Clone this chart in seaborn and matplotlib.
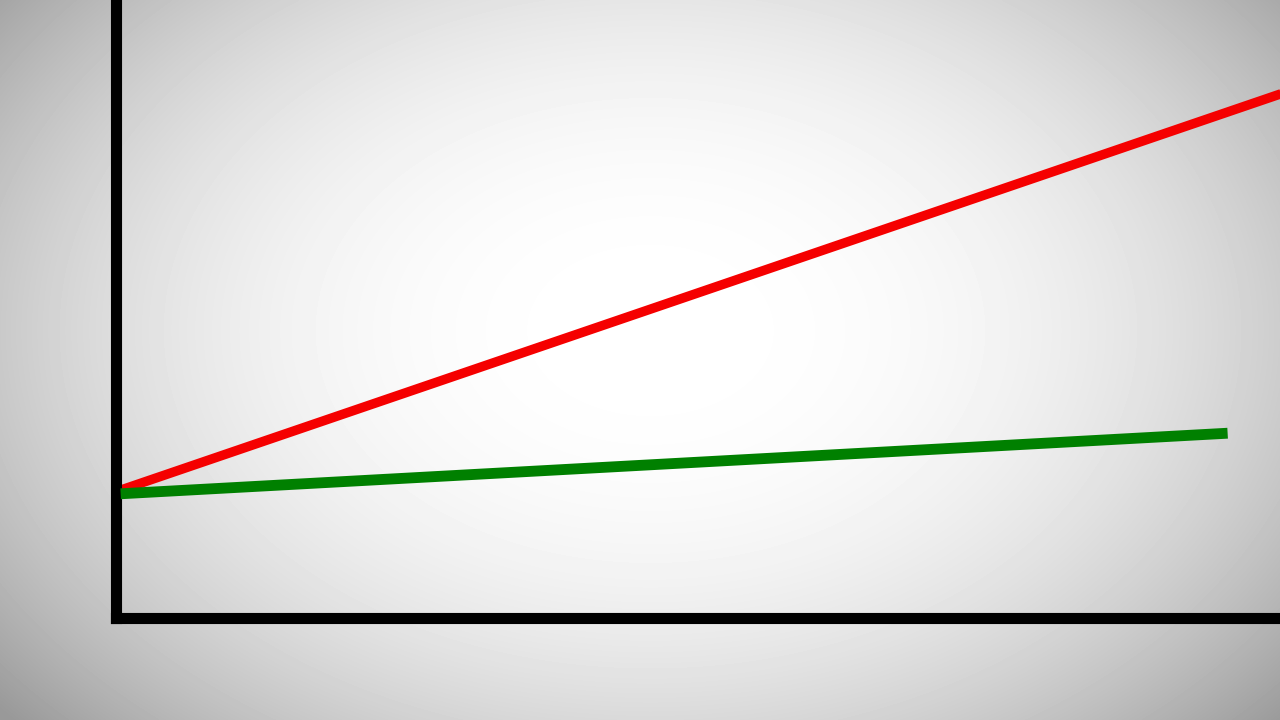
import numpy as np
import pandas as pd
import matplotlib
matplotlib.use("Agg")
import matplotlib.pyplot as plt
import seaborn as sns

# data (axis units 0-10)
red_x = [0.04, 10.3]
red_y = [2.07, 8.67]
green_x = [0.04, 9.55]
green_y = [2.01, 2.99]

df = pd.concat([
    pd.DataFrame({"x": red_x, "y": red_y, "series": "red"}),
    pd.DataFrame({"x": green_x, "y": green_y, "series": "green"}),
])

sns.set_style("white")

fig = plt.figure(figsize=(12.8, 7.2), dpi=100)

# radial grey background, white core with greyer edges
bg = fig.add_axes([0, 0, 1, 1])
xx, yy = np.meshgrid(np.arange(1280), np.arange(720))
r = np.sqrt(((xx - 650) / 720.0) ** 2 + ((yy - 330) / 500.0) ** 2)
shade = np.clip(1 - 0.27 * r ** 2.4, 0.6, 1.0)
bg.imshow(shade, cmap="gray", vmin=0, vmax=1, aspect="auto", interpolation="bilinear")
bg.axis("off")

# main axes: left spine at ~116px, bottom spine at ~618px
ax = fig.add_axes([116 / 1280, (720 - 618) / 720, (1280 - 116) / 1280, 618 / 720])
ax.patch.set_alpha(0)
sns.lineplot(data=df[df.series == "red"], x="x", y="y", color="#f50000",
             linewidth=6.8, ax=ax, solid_capstyle="butt", zorder=2)
sns.lineplot(data=df[df.series == "green"], x="x", y="y", color="#008000",
             linewidth=7.8, ax=ax, solid_capstyle="butt", zorder=3)
ax.set_xlim(0, 10)
ax.set_ylim(0, 10)
ax.set_xticks([])
ax.set_yticks([])
ax.set_xlabel("")
ax.set_ylabel("")
for side in ["top", "right"]:
    ax.spines[side].set_visible(False)
for side in ["left", "bottom"]:
    ax.spines[side].set_color("black")
    ax.spines[side].set_linewidth(8.0)
    ax.spines[side].set_capstyle("projecting")

fig.savefig("out.png", dpi=100)
